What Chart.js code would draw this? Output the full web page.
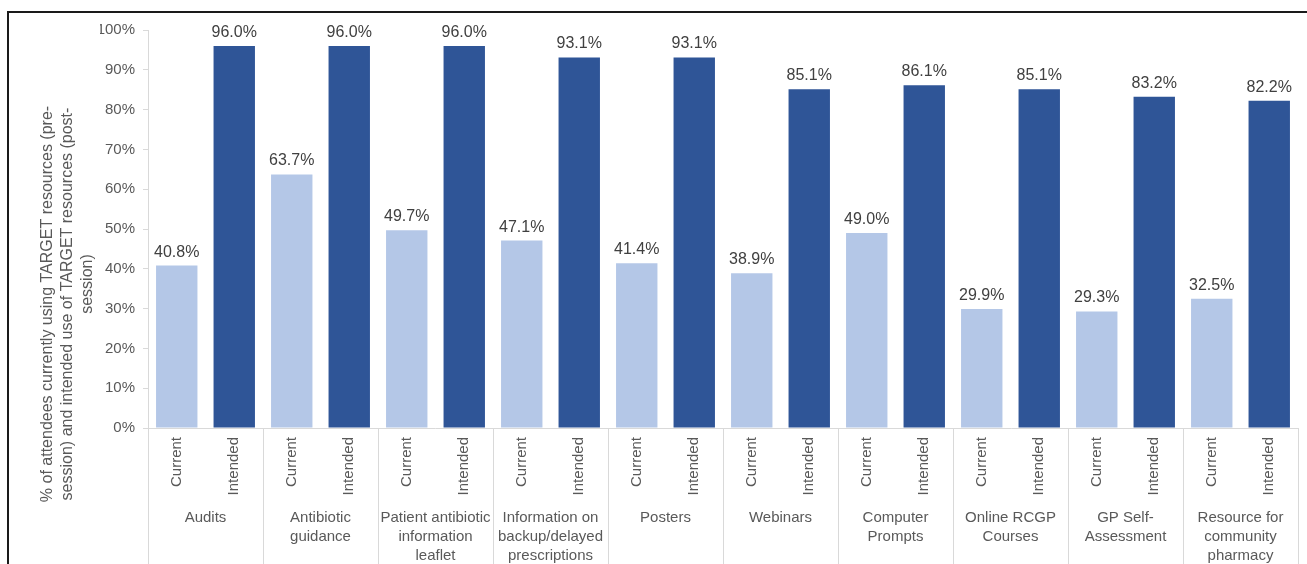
<!DOCTYPE html>
<html>
<head>
<meta charset="utf-8">
<style>
  html, body { margin: 0; padding: 0; background: #fff; }
  #wrap { position: relative; width: 1307px; height: 564px; }
</style>
<script src="https://cdn.jsdelivr.net/npm/chart.js@4.4.1/dist/chart.umd.min.js"></script>
</head>
<body>
<div id="wrap"><canvas id="chart"></canvas></div>
<script>
// --- data ---
const groups = [
    ['Audits'],
    ['Antibiotic', 'guidance'],
    ['Patient antibiotic', 'information', 'leaflet'],
    ['Information on', 'backup/delayed', 'prescriptions'],
    ['Posters'],
    ['Webinars'],
    ['Computer', 'Prompts'],
    ['Online RCGP', 'Courses'],
    ['GP Self-', 'Assessment'],
    ['Resource for', 'community', 'pharmacy']
];
const seriesNames = ['Current', 'Intended'];
const current = [40.8, 63.7, 49.7, 47.1, 41.4, 38.9, 49.0, 29.9, 29.3, 32.5];
const intended = [96.0, 96.0, 96.0, 93.1, 93.1, 85.1, 86.1, 85.1, 83.2, 82.2];
const yTicks = [0, 10, 20, 30, 40, 50, 60, 70, 80, 90, 100];
const yTitle = [
    '% of attendees currently using TARGET resources (pre-',
    'session) and intended use of TARGET resources (post-',
    'session)'
];

const fontFamily = "'Liberation Sans', Arial, sans-serif";
const textGrey = '#595959';
const lineGrey = '#D9D9D9';

// one bar per category: Current / Intended alternate
const labels = [];
const currentData = [];
const intendedData = [];
groups.forEach(function (g, i) {
    labels.push(seriesNames[0], seriesNames[1]);
    currentData.push(current[i], null);
    intendedData.push(null, intended[i]);
});

// outer frame of the figure
const framePlugin = {
    id: 'frame',
    beforeDraw(chart) {
        const ctx = chart.ctx;
        ctx.save();
        ctx.strokeStyle = '#1a1a1a';
        ctx.lineWidth = 2;
        ctx.beginPath();
        ctx.moveTo(8, chart.height);
        ctx.lineTo(8, 12);
        ctx.lineTo(chart.width, 12);
        ctx.stroke();
        ctx.restore();
    }
};

// value labels above bars
const valueLabels = {
    id: 'valueLabels',
    afterDatasetsDraw(chart) {
        const ctx = chart.ctx;
        ctx.save();
        ctx.font = '16px ' + fontFamily;
        ctx.fillStyle = '#404040';
        ctx.textAlign = 'center';
        ctx.textBaseline = 'alphabetic';
        chart.data.datasets.forEach(function (ds, di) {
            chart.getDatasetMeta(di).data.forEach(function (bar, i) {
                const v = ds.data[i];
                if (v === null) return;
                ctx.fillText(v.toFixed(1) + '%', bar.x, bar.y - 9);
            });
        });
        ctx.restore();
    }
};

// second level of the category axis: group names + separators
const groupAxis = {
    id: 'groupAxis',
    afterDraw(chart) {
        const ctx = chart.ctx;
        const x = chart.scales.x;
        ctx.save();
        ctx.strokeStyle = lineGrey;
        ctx.lineWidth = 1;
        for (let g = 0; g <= groups.length; g++) {
            let px;
            if (g === 0) px = x.left;
            else if (g === groups.length) px = x.right;
            else px = (x.getPixelForValue(2 * g - 1) + x.getPixelForValue(2 * g)) / 2;
            px = Math.round(px) + 0.5;
            ctx.beginPath();
            ctx.moveTo(px, x.top);
            ctx.lineTo(px, chart.height);
            ctx.stroke();
        }
        ctx.font = '15px ' + fontFamily;
        ctx.fillStyle = textGrey;
        ctx.textAlign = 'center';
        ctx.textBaseline = 'middle';
        groups.forEach(function (lines, g) {
            const cx = (x.getPixelForValue(2 * g) + x.getPixelForValue(2 * g + 1)) / 2;
            lines.forEach(function (t, k) {
                ctx.fillText(t, cx, x.top + 90 + k * 19);
            });
        });
        ctx.restore();
    }
};

// rotated y axis title, three lines
const yTitlePlugin = {
    id: 'yTitle',
    afterDraw(chart) {
        const ctx = chart.ctx;
        const centres = [304, 304, 284];
        ctx.save();
        ctx.font = '16px ' + fontFamily;
        ctx.fillStyle = textGrey;
        ctx.textAlign = 'center';
        ctx.textBaseline = 'middle';
        yTitle.forEach(function (t, k) {
            ctx.save();
            ctx.translate(48 + k * 20, centres[k]);
            ctx.rotate(-Math.PI / 2);
            ctx.fillText(t, 0, 0);
            ctx.restore();
        });
        ctx.restore();
    }
};

const ctx = document.getElementById('chart').getContext('2d');
new Chart(ctx, {
    type: 'bar',
    data: {
        labels: labels,
        datasets: [{
            label: seriesNames[0],
            data: currentData,
            backgroundColor: '#B4C7E7'
        }, {
            label: seriesNames[1],
            data: intendedData,
            backgroundColor: '#2F5597'
        }]
    },
    options: {
        responsive: true,
        maintainAspectRatio: false,
        animation: false,
        layout: {
            padding: { left: 100, top: 30, right: 9, bottom: 0 }
        },
        datasets: {
            bar: {
                skipNull: true,
                barPercentage: 0.72,
                categoryPercentage: 1
            }
        },
        scales: {
            y: {
                min: 0,
                max: 100,
                afterFit: function (scale) { scale.width = 48; },
                afterBuildTicks: function (scale) {
                    scale.ticks = yTicks.map(function (v) { return { value: v }; });
                },
                grid: {
                    drawOnChartArea: false,
                    tickLength: 5,
                    color: lineGrey
                },
                border: { color: lineGrey },
                ticks: {
                    padding: 8,
                    color: textGrey,
                    font: { family: fontFamily, size: 15 },
                    callback: function (v) { return v + '%'; }
                }
            },
            x: {
                afterFit: function (scale) { scale.height = 136; },
                grid: { display: false, drawTicks: false },
                border: { color: lineGrey },
                ticks: {
                    autoSkip: false,
                    maxRotation: 90,
                    minRotation: 90,
                    padding: 9,
                    color: textGrey,
                    font: { family: fontFamily, size: 15 }
                }
            }
        },
        plugins: {
            legend: { display: false },
            tooltip: { enabled: false }
        }
    },
    plugins: [framePlugin, valueLabels, groupAxis, yTitlePlugin]
});
</script>
</body>
</html>
